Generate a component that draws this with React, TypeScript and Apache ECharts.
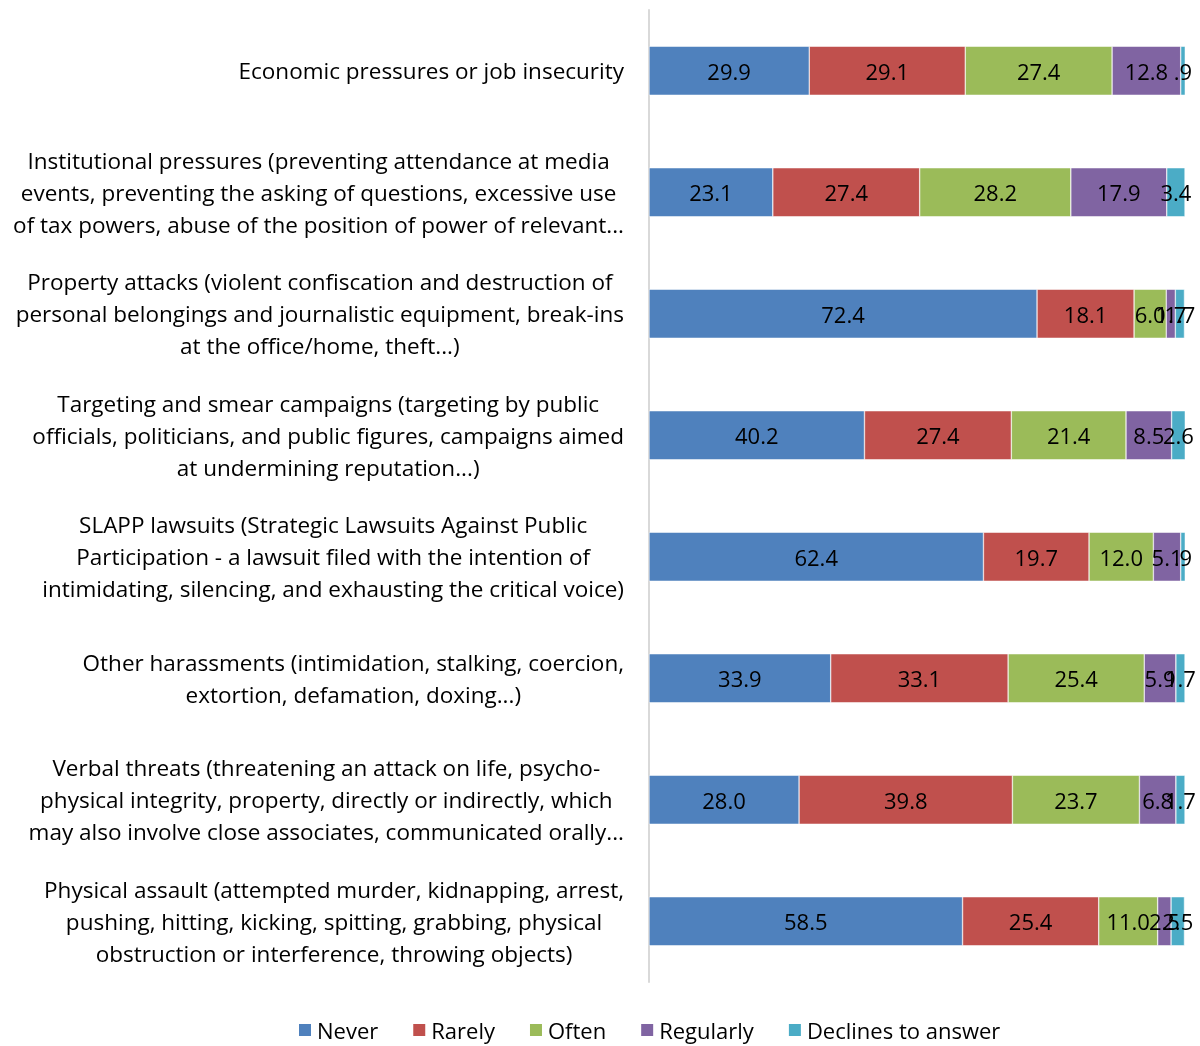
import React, { useEffect, useRef } from "react";
import * as echarts from "echarts";

const categories: string[][] = [
  ["Economic pressures or job insecurity"],
  [
    "Institutional pressures (preventing attendance at media",
    "events, preventing the asking of questions, excessive use",
    "of tax powers, abuse of the position of power of relevant...",
  ],
  [
    "Property attacks (violent confiscation and destruction of",
    "personal belongings and journalistic equipment, break-ins",
    "at the office/home, theft...)",
  ],
  [
    "Targeting and smear campaigns (targeting by public",
    "officials, politicians, and public figures, campaigns aimed",
    "at undermining reputation...)",
  ],
  [
    "SLAPP lawsuits (Strategic Lawsuits Against Public",
    "Participation - a lawsuit filed with the intention of",
    "intimidating, silencing, and exhausting the critical voice)",
  ],
  [
    "Other harassments (intimidation, stalking, coercion,",
    "extortion, defamation, doxing...)",
  ],
  [
    "Verbal threats (threatening an attack on life, psycho-",
    "physical integrity, property, directly or indirectly, which",
    "may also involve close associates, communicated orally...",
  ],
  [
    "Physical assault (attempted murder, kidnapping, arrest,",
    "pushing, hitting, kicking, spitting, grabbing, physical",
    "obstruction or interference, throwing objects)",
  ],
];

const never = [29.9, 23.1, 72.4, 40.2, 62.4, 33.9, 28.0, 58.5];
const rarely = [29.1, 27.4, 18.1, 27.4, 19.7, 33.1, 39.8, 25.4];
const often = [27.4, 28.2, 6.0, 21.4, 12.0, 25.4, 23.7, 11.0];
const regularly = [12.8, 17.9, 1.7, 8.5, 5.1, 5.9, 6.8, 2.5];
const declines = [0.9, 3.4, 1.7, 2.6, 0.9, 1.7, 1.7, 2.5];

const seriesNames = ["Never", "Rarely", "Often", "Regularly", "Declines to answer"];
const seriesData = [never, rarely, often, regularly, declines];
const colors = ["#4F81BD", "#C0504D", "#9BBB59", "#8064A2", "#4BACC6"];

const FONT = "'Open Sans', 'Noto Sans', sans-serif";

function fmt(v: number): string {
  const s = v.toFixed(1);
  return v < 1 ? s.replace(/^0/, "") : s;
}

export default function App() {
  const ref = useRef<HTMLDivElement>(null);
  useEffect(() => {
    if (!ref.current) return;
    const chart = echarts.init(ref.current, undefined, { renderer: "svg" });
    const catKeys = categories.map((c, i) => String(i));
    chart.setOption({
      animation: false,
      color: colors,
      textStyle: { fontFamily: FONT },
      grid: { left: 649, right: 15, top: 10, bottom: 64, containLabel: false },
      xAxis: {
        type: "value",
        min: 0,
        max: 100,
        show: false,
      },
      yAxis: {
        type: "category",
        inverse: true,
        data: catKeys,
        axisLine: { show: true, lineStyle: { color: "#D9D9D9", width: 2 } },
        axisTick: { show: false },
        axisLabel: {
          margin: 25,
          color: "#000",
          fontSize: 22.5,
          fontFamily: FONT,
          lineHeight: 32,
          formatter: (val: string) =>
            categories[Number(val)].map((l) => `{c|${l}}`).join("\n"),
          rich: {
            c: {
              align: "center",
              fontSize: 22.5,
              lineHeight: 32,
              color: "#000",
              fontFamily: FONT,
            },
          },
        },
      },
      legend: {
        left: 297,
        top: 1019,
        padding: 0,
        itemWidth: 14,
        itemHeight: 14,
        itemGap: 33,
        icon: "rect",
        textStyle: { fontSize: 22, color: "#000", fontFamily: FONT },
        data: seriesNames,
      },
      series: seriesData.map((d, i) => ({
        name: seriesNames[i],
        type: "bar",
        stack: "total",
        barWidth: 49,
        data: d,
        itemStyle: { color: colors[i], borderColor: "#fff", borderWidth: 0.5 },
        label: {
          show: true,
          position: "inside",
          color: "#000",
          fontSize: 22,
          fontFamily: FONT,
          formatter: (p: any) => fmt(p.value),
        },
      })),
    });
    return () => chart.dispose();
  }, []);
  return (
    <div
      ref={ref}
      style={{ position: "fixed", left: 0, top: 0, width: 1200, height: 1046 }}
    />
  );
}
